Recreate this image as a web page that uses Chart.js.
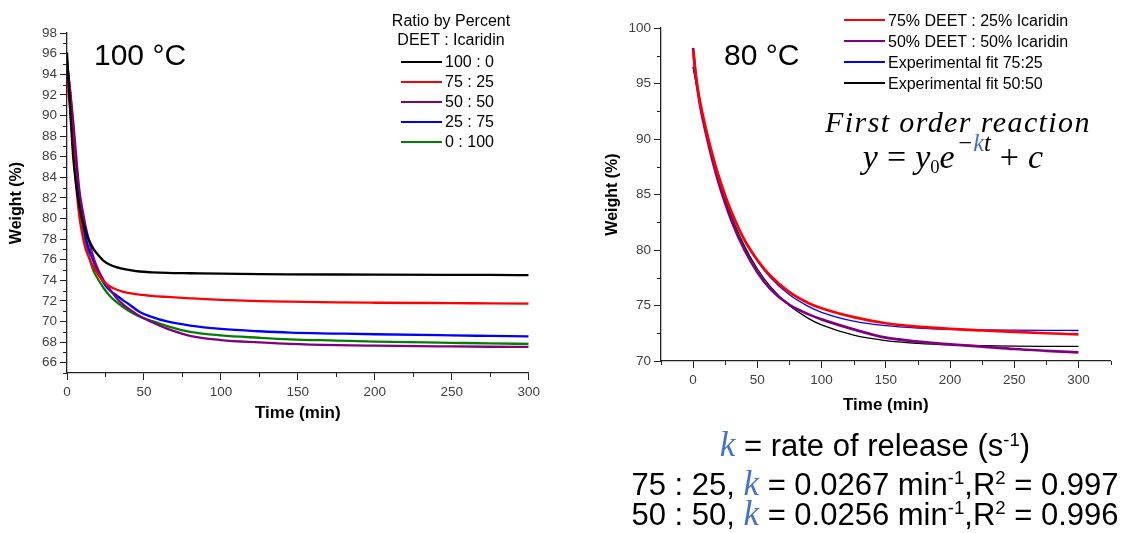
<!DOCTYPE html>
<html>
<head>
<meta charset="utf-8">
<script src="https://cdn.jsdelivr.net/npm/chart.js@4/dist/chart.umd.min.js"></script>
<style>
  html, body { margin: 0; padding: 0; background: #fff; }
  body { width: 1125px; height: 533px; position: relative; overflow: hidden;
         font-family: 'Liberation Sans', Arial, sans-serif; color: #000; }
  .box { position: absolute; }
  .txt { position: absolute; white-space: nowrap; line-height: 1; }
  .serif { font-family: 'Liberation Serif', 'Times New Roman', serif; font-style: italic; }
  .kblue { color: #4472c4; font-family: 'Liberation Serif', serif; font-style: italic; }
  .up { position: relative; top: -0.55em; font-size: 0.6em; }
  .legend { position: absolute; font-size: 16px; }
  .row { display: flex; align-items: center; white-space: nowrap; }
  .swatch { display: inline-block; width: 41px; margin-right: 3px; }
  .op { font-style: normal; margin: 0 9px; }
</style>
</head>
<body>

<div class="box" id="leftBox" style="left:0;top:0;width:560px;height:430px"><canvas id="chart100"></canvas></div>
<div class="box" id="rightBox" style="left:590px;top:0;width:535px;height:430px"><canvas id="chart80"></canvas></div>

<div class="txt" style="left:94px;top:39.6px;font-size:30px">100 °C</div>
<div class="txt" style="left:724px;top:39.6px;font-size:30px">80 °C</div>

<div class="txt" style="left:351px;width:200px;text-align:center;top:12.5px;font-size:16px">Ratio by Percent</div>
<div class="txt" style="left:351px;width:200px;text-align:center;top:32.2px;font-size:16px">DEET : Icaridin</div>
<div class="legend" id="legend100" style="left:401px;top:52.3px"></div>
<div class="legend" id="legend80" style="left:844px;top:9.5px"></div>

<div class="txt serif" style="left:758px;width:400px;text-align:center;top:106.6px;font-size:30px;letter-spacing:1.4px">First order reaction</div>
<div class="txt serif" style="left:753px;width:400px;text-align:center;top:139.5px;font-size:34px">y<span class="op">=</span>y<span style="font-size:0.55em;font-style:normal;position:relative;top:0.3em">0</span>e<span style="position:relative;top:-0.66em;font-size:0.72em;margin-left:2px">−<span style="color:#4472c4">k</span>t</span><span class="op">+</span>c</div>

<div class="txt" style="left:575px;width:600px;text-align:center;top:427px;font-size:31px"><span class="kblue" style="font-size:35px">k</span> = rate of release (s<span class="up">-1</span>)</div>
<div class="txt" style="left:575px;width:600px;text-align:center;top:465.5px;font-size:31px">75 : 25, <span class="kblue" style="font-size:35px">k</span> = 0.0267 min<span class="up">-1</span>,R<span class="up">2</span> = 0.997</div>
<div class="txt" style="left:575px;width:600px;text-align:center;top:495.5px;font-size:31px">50 : 50, <span class="kblue" style="font-size:35px">k</span> = 0.0256 min<span class="up">-1</span>,R<span class="up">2</span> = 0.996</div>

<script>
// ---- 100 °C run: weight (%) vs time (min)
const time100 = [0, 2, 4, 6, 8, 10, 12, 14, 17, 20, 24, 28, 32, 36, 40, 47, 55, 65, 80, 100, 125, 145, 175, 200, 250, 275, 300];
const w100_0  = [96.1, 90.8, 86.0, 83.2, 81.2, 79.8, 78.85, 78.0, 77.1, 76.5, 75.85, 75.5, 75.27, 75.12, 75.0, 74.85, 74.77, 74.71, 74.68, 74.64, 74.6, 74.58, 74.56, 74.55, 74.53, 74.52, 74.5];
const w75_25  = [93.5, 90.6, 87.0, 83.1, 80.2, 78.4, 77.1, 76.3, 75.35, 74.6, 73.85, 73.4, 73.1, 72.9, 72.78, 72.6, 72.48, 72.38, 72.25, 72.1, 71.98, 71.92, 71.85, 71.82, 71.78, 71.76, 71.74];
const w50_50  = [95.0, 92.5, 89.5, 86.0, 82.8, 80.9, 79.3, 78.0, 76.3, 75.1, 73.95, 73.1, 72.3, 71.7, 71.25, 70.55, 69.95, 69.3, 68.6, 68.2, 67.97, 67.82, 67.7, 67.65, 67.58, 67.55, 67.53];
const w25_75  = [95.3, 92.3, 88.9, 85.0, 81.7, 79.9, 78.3, 77.1, 75.9, 74.85, 73.7, 73.0, 72.55, 72.1, 71.7, 70.95, 70.45, 70.0, 69.6, 69.28, 69.05, 68.92, 68.83, 68.76, 68.65, 68.6, 68.55];
const w0_100  = [95.0, 91.8, 88.2, 84.2, 81.1, 79.2, 77.6, 76.4, 75.0, 74.15, 73.2, 72.45, 71.9, 71.45, 71.05, 70.5, 70.05, 69.55, 69.0, 68.65, 68.42, 68.27, 68.15, 68.05, 67.93, 67.87, 67.82];
const labels100 = ['100 : 0', '75 : 25', '50 : 50', '25 : 75', '0 : 100'];

// ---- 80 °C run: measured curves and first-order fits
const time80 = [0, 2, 5, 10, 15, 20, 25, 30, 40, 50, 60, 75, 90, 100, 125, 150, 175, 200, 225, 250, 275, 300];
const w80_75  = [98.0, 95.8, 93.6, 90.9, 88.6, 86.6, 84.9, 83.4, 80.9, 79.1, 77.7, 76.2, 75.2, 74.75, 73.95, 73.4, 73.1, 72.9, 72.75, 72.62, 72.5, 72.4];
const w80_50  = [98.2, 95.8, 93.3, 90.5, 88.1, 86.0, 84.2, 82.6, 80.0, 78.0, 76.5, 75.05, 74.2, 73.75, 72.85, 72.1, 71.75, 71.5, 71.3, 71.08, 70.92, 70.78];
const fit75   = [96.5, 95.27, 93.53, 90.94, 88.67, 86.67, 84.94, 83.41, 80.91, 79.0, 77.54, 75.96, 74.9, 74.39, 73.59, 73.18, 72.97, 72.86, 72.81, 72.78, 72.76, 72.75];
const fit50   = [96.5, 95.24, 93.47, 90.81, 88.46, 86.4, 84.59, 82.99, 80.35, 78.31, 76.73, 74.99, 73.82, 73.25, 72.33, 71.84, 71.59, 71.45, 71.38, 71.34, 71.32, 71.31];
const labels80 = ['75% DEET : 25% Icaridin', '50% DEET : 50% Icaridin', 'Experimental fit 75:25', 'Experimental fit 50:50'];

// axis ticks
const ticksY100 = [66, 68, 70, 72, 74, 76, 78, 80, 82, 84, 86, 88, 90, 92, 94, 96, 98];
const minorY100 = [65, 67, 69, 71, 73, 75, 77, 79, 81, 83, 85, 87, 89, 91, 93, 95, 97];
const ticksX100 = [0, 50, 100, 150, 200, 250, 300];
const minorX100 = [25, 75, 125, 175, 225, 275];
const ticksY80 = [70, 75, 80, 85, 90, 95, 100];
const minorY80 = [72.5, 77.5, 82.5, 87.5, 92.5, 97.5];
const ticksX80 = [0, 50, 100, 150, 200, 250, 300];
const minorX80 = [-25, 25, 75, 125, 175, 225, 275, 325];

const axisColor = '#222';
const tickFont = { size: 13.5 };
const tickColor = '#404040';

Chart.defaults.font.family = "'Liberation Sans', Arial, sans-serif";

const pairs = (xs, ys) => xs.map((x, i) => ({ x: x, y: ys[i] }));

// short minor tick marks between the labelled ones
const minorTicks = {
    id: 'minorTicks',
    afterDraw(chart, args, opts) {
        const ctx = chart.ctx;
        const area = chart.chartArea;
        ctx.save();
        ctx.strokeStyle = axisColor;
        ctx.lineWidth = 1;
        ctx.beginPath();
        (opts.x || []).forEach(v => {
            const px = Math.round(chart.scales.x.getPixelForValue(v)) + 0.5;
            ctx.moveTo(px, area.bottom);
            ctx.lineTo(px, area.bottom + 4);
        });
        (opts.y || []).forEach(v => {
            const py = Math.round(chart.scales.y.getPixelForValue(v)) + 0.5;
            ctx.moveTo(area.left, py);
            ctx.lineTo(area.left - 4, py);
        });
        ctx.stroke();
        ctx.restore();
    }
};

function axis(min, max, ticks, fixed, title, titlePad, horizontal) {
    return {
        type: 'linear',
        min: min,
        max: max,
        afterBuildTicks: s => { s.ticks = ticks.map(v => ({ value: v })); },
        afterFit: s => { if (horizontal) s.height = fixed; else s.width = fixed; },
        border: { display: true, color: axisColor, width: 1.3 },
        grid: { drawOnChartArea: false, drawTicks: true, tickLength: 7, color: axisColor, tickWidth: 1 },
        ticks: { font: tickFont, color: tickColor, padding: horizontal ? 4 : 3, maxRotation: 0, autoSkip: false },
        title: { display: true, text: title, color: '#000',
                 font: { size: horizontal ? 17 : 16, weight: 'bold' }, padding: titlePad }
    };
}

function lineSet(label, data, color, width) {
    return {
        label: label,
        data: data,
        borderColor: color,
        backgroundColor: color,
        borderWidth: width,
        pointRadius: 0,
        cubicInterpolationMode: 'monotone',
        fill: false
    };
}

const sets100 = [
    lineSet(labels100[0], pairs(time100, w100_0), '#000000', 2.3),
    lineSet(labels100[1], pairs(time100, w75_25), '#ff0000', 2.3),
    lineSet(labels100[2], pairs(time100, w50_50), '#800080', 2.3),
    lineSet(labels100[3], pairs(time100, w25_75), '#0000ff', 2.3),
    lineSet(labels100[4], pairs(time100, w0_100), '#008000', 2.3)
];

const sets80 = [
    lineSet(labels80[0], pairs(time80, w80_75), '#ff0000', 2.7),
    lineSet(labels80[1], pairs(time80, w80_50), '#800080', 2.7),
    lineSet(labels80[2], pairs(time80, fit75), '#0000ff', 1.3),
    lineSet(labels80[3], pairs(time80, fit50), '#000000', 1.3)
];

new Chart(document.getElementById('chart100'), {
    type: 'line',
    data: { datasets: sets100 },
    options: {
        responsive: true,
        maintainAspectRatio: false,
        animation: false,
        layout: { padding: { top: 33, right: 31.3, left: 0, bottom: 0 } },
        plugins: {
            legend: { display: false },
            tooltip: { enabled: false },
            minorTicks: { x: minorX100, y: minorY100 }
        },
        scales: {
            x: axis(0, 300, ticksX100, 57, 'Time (min)', { top: 0, bottom: 6.8 }, true),
            y: axis(65, 98, ticksY100, 67, 'Weight (%)', { top: 6.5, bottom: 0 }, false)
        }
    },
    plugins: [minorTicks]
});

new Chart(document.getElementById('chart80'), {
    type: 'line',
    data: { datasets: sets80 },
    options: {
        responsive: true,
        maintainAspectRatio: false,
        animation: false,
        layout: { padding: { top: 28, right: 14.4, left: 0, bottom: 0 } },
        plugins: {
            legend: { display: false },
            tooltip: { enabled: false },
            minorTicks: { x: minorX80, y: minorY80 }
        },
        scales: {
            x: axis(-25, 325, ticksX80, 69, 'Time (min)', { top: 0, bottom: 14.8 }, true),
            y: axis(70, 100, ticksY80, 71, 'Weight (%)', { top: 13.4, bottom: 0 }, false)
        }
    },
    plugins: [minorTicks]
});

// legends built from the dataset labels and colours
function buildLegend(id, sets, rowHeight) {
    const host = document.getElementById(id);
    sets.forEach(ds => {
        const row = document.createElement('div');
        row.className = 'row';
        row.style.height = rowHeight + 'px';
        row.style.lineHeight = rowHeight + 'px';
        const sw = document.createElement('span');
        sw.className = 'swatch';
        sw.style.height = Math.max(1.3, ds.borderWidth) + 'px';
        sw.style.background = ds.borderColor;
        const tx = document.createElement('span');
        tx.textContent = ds.label;
        row.appendChild(sw);
        row.appendChild(tx);
        host.appendChild(row);
    });
}
buildLegend('legend100', sets100, 20);
buildLegend('legend80', sets80, 21);
</script>
</body>
</html>
